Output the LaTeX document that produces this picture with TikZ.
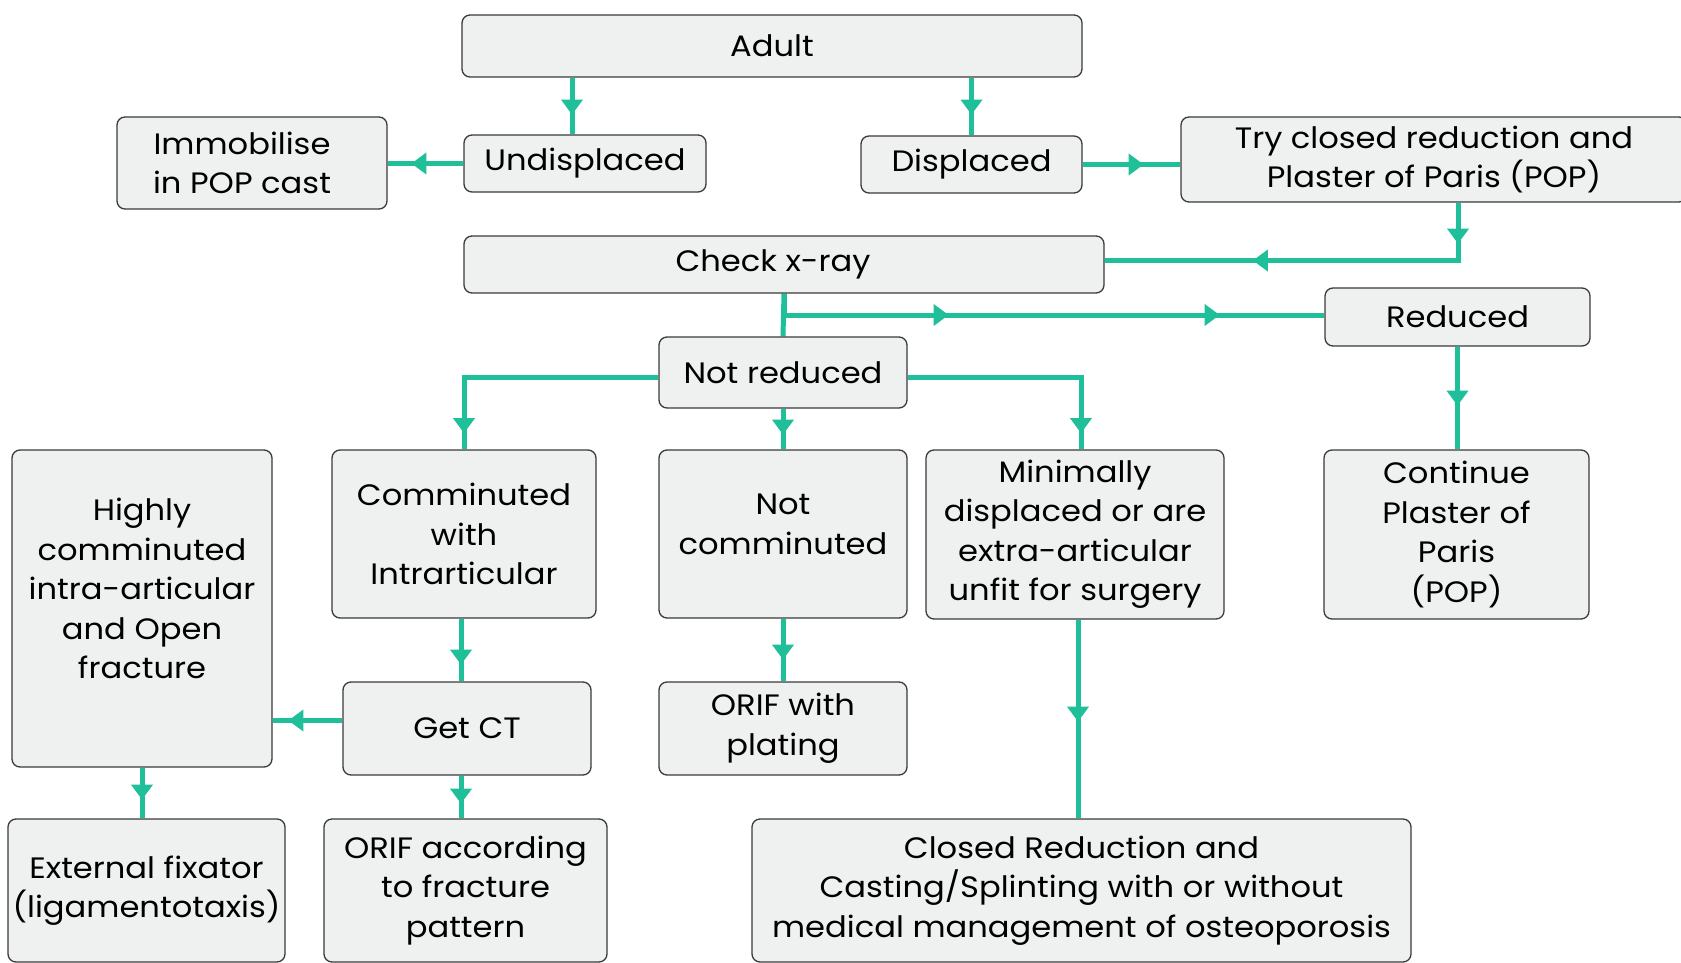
\documentclass[tikz,border=0pt]{standalone}
\usepackage{fontspec}
\setmainfont{Poppins}[FakeStretch=1.09]
\usetikzlibrary{arrows.meta,decorations.markings,calc}
\definecolor{teal}{HTML}{1FBF9A}
\definecolor{boxfill}{HTML}{EFF1F0}
\definecolor{boxline}{HTML}{3A3A3A}
\pgfdeclarelayer{bg}
\pgfsetlayers{bg,main}
\tikzset{
  box/.style={draw=boxline,line width=1.3pt,fill=boxfill,rounded corners=8pt,
    align=center,inner sep=0pt,font=\fontsize{29.5}{39.5}\selectfont},
  conn/.style={draw=teal,line width=5pt},
  tipat/.style={postaction={decorate},decoration={markings,
    mark=at position #1 with {\arrow[teal]{Triangle[width=21pt,length=15pt]}}}},
  twotips/.style 2 args={postaction={decorate},decoration={markings,
    mark=at position #1 with {\arrow[teal]{Triangle[width=21pt,length=15pt]}},
    mark=at position #2 with {\arrow[teal]{Triangle[width=21pt,length=15pt]}}}},
}
\newcommand{\bx}[6]{% name, left, right, top, bottom, text
  \node[box,minimum width=#3pt-#2pt,minimum height=#5pt-#4pt] (#1) at ({(#2+#3)/2},{-(#4+#5)/2}) {#6};}
\begin{document}
\begin{tikzpicture}[x=1pt,y=1pt]
\useasboundingbox (0,0) rectangle (1681,-963);
% boxes
\bx{adult}{462}{1082}{15}{77}{Adult}
\bx{und}{464}{706}{135}{192}{Undisplaced}
\bx{imm}{117}{387}{117}{209}{Immobilise\hspace*{20pt}\\in POP cast\hspace*{20pt}}
\bx{disp}{861}{1082}{136}{193}{Displaced}
\bx{try}{1181}{1687}{117}{202}{Try closed reduction and\\Plaster of Paris (POP)}
\bx{chk}{464}{1104}{236}{293}{Check x-ray\hspace*{22pt}}
\bx{red}{1325}{1590}{288}{346}{Reduced}
\bx{nr}{659}{907}{337}{408}{Not reduced}
\bx{comm}{332}{596}{450}{618}{Comminuted\\with\\Intrarticular}
\bx{high}{12}{272}{450}{767}{Highly\\comminuted\\intra-articular\\and Open\\fracture\\\mbox{}}
\bx{notc}{659}{907}{450}{618}{Not\\comminuted\\[-20pt]\mbox{}}
\bx{min}{926}{1224}{450}{619}{Minimally\\displaced or are\\extra-articular\\unfit for surgery}
\bx{cont}{1324}{1589}{450}{619}{Continue\\Plaster of\\Paris\\(POP)}
\bx{ct}{343}{591}{682}{775}{Get CT}
\bx{orp}{659}{907}{682}{775}{ORIF with\\plating}
\bx{ext}{8}{285}{819}{962}{External fixator\\(ligamentotaxis)}
\bx{ora}{324}{607}{819}{962}{ORIF according\\to fracture\\pattern}
\bx{cr}{752}{1411}{819}{962}{Closed Reduction and\\Casting/Splinting with or without\\medical management of osteoporosis}
% connectors
\begin{pgfonlayer}{bg}
\draw[conn,tipat=37pt] ([xshift=-13pt]und.north |- adult.south) -- ([xshift=-13pt]und.north);
\draw[conn,tipat=37pt] (disp.north |- adult.south) -- (disp.north);
\draw[conn,tipat=52pt] (und.west) -- (imm.east |- und.west);
\draw[conn,tipat=61pt] (disp.east) -- (try.west |- disp.east);
\draw[conn,twotips={41pt}{263pt}] ([xshift=24pt]try.south) |- ([yshift=4pt]chk.east);
\draw[conn] (chk.south) -- (nr.north);
\draw[conn,twotips={186pt}{457pt}] (chk.south) |- ([yshift=2pt]red.west);
\draw[conn,tipat=59pt] (red.south) -- (red.south |- cont.north);
\draw[conn,tipat=250pt] ([yshift=-5pt]nr.west) -| (comm.north);
\draw[conn,tipat=26pt] (nr.south) -- (nr.south |- notc.north);
\draw[conn,tipat=229pt] ([yshift=-5pt]nr.east) -| ([xshift=6pt]min.north);
\draw[conn,tipat=46pt] ([xshift=-3pt]comm.south) -- ([xshift=-3pt]comm.south |- ct.north);
\draw[conn,tipat=54pt] ([yshift=8pt]ct.west) -- ([yshift=8pt]ct.west -| high.east);
\draw[conn,tipat=32pt] (high.south) -- (high.south |- ext.north);
\draw[conn,tipat=28pt] ([xshift=-6pt]ct.south) -- ([xshift=-6pt]ct.south |- ora.north);
\draw[conn,tipat=41pt] (notc.south) -- (notc.south |- orp.north);
\draw[conn,tipat=102pt] ([xshift=3pt]min.south) -- ([xshift=3pt]min.south |- cr.north);
\end{pgfonlayer}
\end{tikzpicture}
\end{document}
